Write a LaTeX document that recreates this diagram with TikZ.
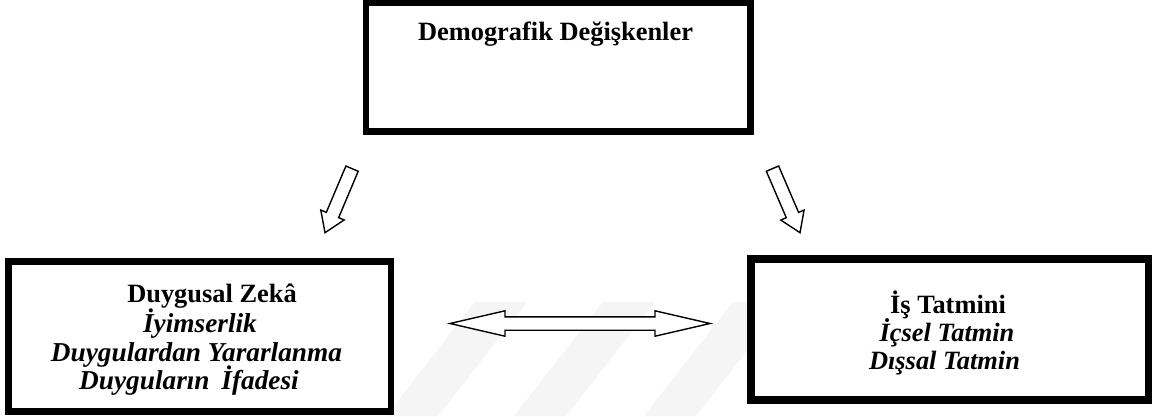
\documentclass[tikz,border=0pt]{standalone}
\usepackage{fontspec}
\setmainfont{Liberation Serif}
\usetikzlibrary{shapes.arrows}

\tikzset{
  frame/.style={draw=black, fill=white, line width=6.5pt, inner sep=0pt},
  blockarrow/.style={draw=black, fill=white, line width=1.4pt, inner sep=6pt},
  headline/.style={font=\fontsize{26.4}{30}\selectfont\bfseries, inner sep=0pt, anchor=base},
  subline/.style={font=\fontsize{26.4}{30}\selectfont\bfseries\itshape, inner sep=0pt, anchor=base},
  bigsubline/.style={subline, font=\fontsize{27.3}{30}\selectfont\bfseries\itshape},
  stripe/.style={fill=black!4}
}

\begin{document}
\begin{tikzpicture}[x=1pt,y=-1pt]
  % page
  \fill[white] (0,0) rectangle (1153,416);
  \useasboundingbox (0,0) rectangle (1153,416);

  % faint background stripes
  \fill[stripe] (475,302) -- (527,302) -- (438,416) -- (386,416) -- cycle;
  \fill[stripe] (603,302) -- (655,302) -- (566,416) -- (514,416) -- cycle;
  \fill[stripe] (733,302) -- (785,302) -- (696,416) -- (644,416) -- cycle;

  % boxes
  \node[frame, minimum width=384.7pt, minimum height=129.2pt] (demo) at (558.15,67.1) {};
  \node[frame, minimum width=382.5pt, minimum height=149.8pt] (ezbox) at (199.55,336.6) {};
  \node[frame, line width=7.5pt, minimum width=397.5pt, minimum height=141pt] (jsbox) at (949.75,329.5) {};

  % box texts
  \node[headline] (demotitle) at (555.5,40) {Demografik Değişkenler};

  \node[headline] (eztitle) at (212,302) {Duygusal Zekâ};
  \node[bigsubline] (ezone) at (200,332) {İyimserlik};
  \node[bigsubline] (eztwo) at (196.5,361) {Duygulardan Yararlanma};
  \node[bigsubline] (ezthree) at (189,389.5) {Duyguların\hspace{5pt} İfadesi};

  \node[headline] (jstitle) at (948,313.3) {İş Tatmini};
  \node[subline] (jsone) at (947,341.7) {İçsel Tatmin};
  \node[subline] (jstwo) at (944.5,369.5) {Dışsal Tatmin};

  % block arrows
  \node[blockarrow, single arrow, single arrow head extend=6pt,
        single arrow tip angle=67, minimum height=69.5pt, rotate=247.1]
        (toez) at (340.5,196) {};
  \node[blockarrow, single arrow, single arrow head extend=6pt,
        single arrow tip angle=67, minimum height=69.7pt, rotate=293.25]
        (tojs) at (784.25,196) {};
  \node[blockarrow, double arrow, double arrow head extend=6pt,
        double arrow tip angle=26, minimum height=260pt]
        (link) at (580,323.5) {};
\end{tikzpicture}
\end{document}
